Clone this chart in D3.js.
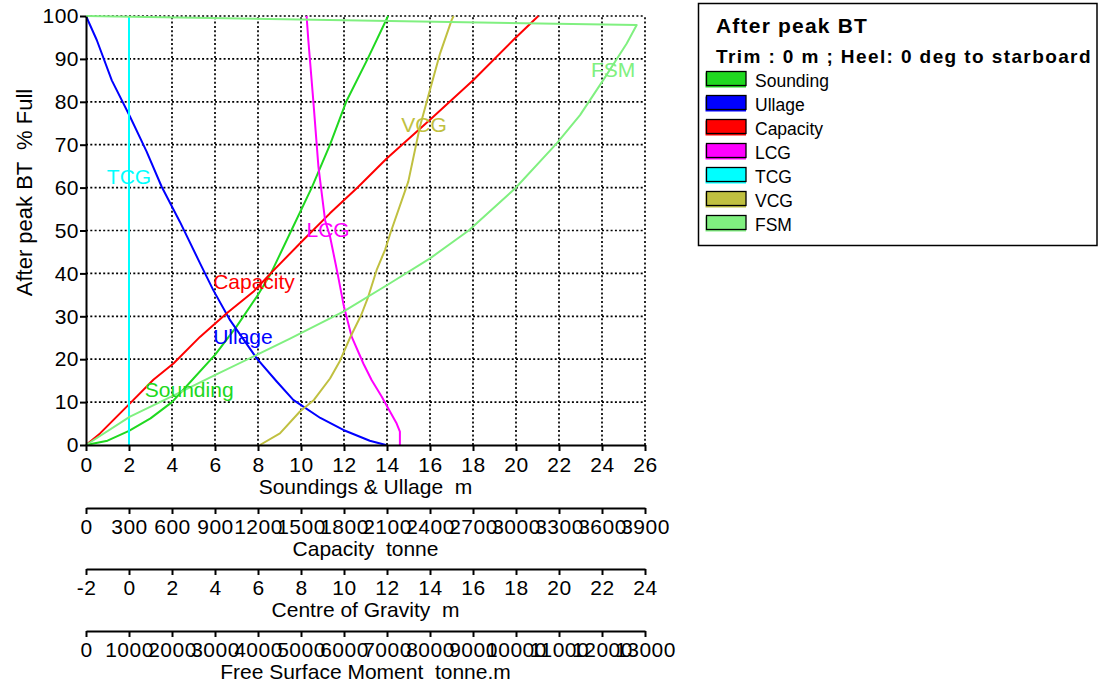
<!DOCTYPE html>
<html>
<head>
<meta charset="utf-8">
<script src="https://cdn.jsdelivr.net/npm/d3@7/dist/d3.min.js"></script>
<style>
  body { margin: 0; background: #fff; }
  svg { display: block; }
  text { font-family: Arial, "Liberation Sans", sans-serif; fill: #000; }
</style>
</head>
<body>
<svg id="chart" width="1099" height="686"></svg>
<script>
// ---- Tank calibration data: After peak BT (trim 0 m, heel 0 deg) ----
// Each series: % full (y) against its own quantity (x).
const soundingPct = [0, 1.0, 3.3, 6.2, 10, 15.5, 21, 27.6, 35, 40, 50, 60, 70, 80, 90, 100];
const soundingM   = [0, 1.0, 2.0, 3.0, 4.0, 5.0, 6.0, 7.0, 8.0, 8.6, 9.55, 10.5, 11.35, 12.1, 13.1, 14.05];

const ullagePct = [100, 94.4, 85, 76.5, 68.4, 60.2, 52, 42.4, 36.1, 29.1, 20.2, 14.8, 10.5, 6.3, 3.5, 1.0, 0];
const ullageM   = [0, 0.5, 1.2, 2.05, 2.82, 3.52, 4.37, 5.3, 5.92, 6.7, 7.94, 8.87, 9.64, 10.9, 11.97, 13.2, 13.95];

const capacityPct    = [0, 2.7, 9.7, 15.2, 19, 25.2, 30.7, 35.7, 40.4, 47.8, 54, 60.2, 66.8, 75.8, 85.1, 94.4, 100];
const capacityTonne  = [0, 98, 307, 470, 610, 795, 982, 1167, 1300, 1516, 1702, 1900, 2098, 2400, 2703, 2981, 3156];

const lcgPct = [0, 3.1, 5, 8.5, 11.3, 15.1, 19, 25.2, 32.2, 40, 48.6, 52.4, 64.9, 80.4, 94.4, 100];
const lcgM   = [12.6, 12.6, 12.45, 12.06, 11.75, 11.29, 10.9, 10.36, 10.0, 9.7, 9.35, 9.12, 8.81, 8.57, 8.34, 8.26];

const tcgPct = [0, 100];
const tcgM   = [0, 0];

const vcgPct = [0, 2.7, 7.8, 10.5, 15.5, 19.6, 25, 30.3, 34.6, 40.8, 45.5, 50, 61.4, 74.2, 82.8, 91.3, 99.1, 100];
const vcgM   = [6.09, 7.02, 7.95, 8.6, 9.35, 9.81, 10.28, 10.8, 11.13, 11.52, 11.91, 12.2, 12.99, 13.53, 14.0, 14.47, 15.01, 15.1];

const fsmPct = [0, 6.6, 11.5, 16.1, 21, 24.8, 31.1, 37.7, 43.5, 50, 59.8, 70.3, 76.9, 85.1, 93.6, 97.9, 100];
const fsmTm  = [0, 1023, 2031, 2961, 3970, 4745, 5985, 7071, 8001, 8900, 9978, 10947, 11489, 12032, 12575, 12807, 0];

// Axis tick values
const pctTicks      = d3.range(0, 101, 10);
const soundingTicks = d3.range(0, 27, 2);
const capacityTicks = d3.range(0, 3901, 300);
const cgTicks       = d3.range(-2, 25, 2);
const fsmTicks      = d3.range(0, 13001, 1000);

const seriesNames  = ["Sounding", "Ullage", "Capacity", "LCG", "TCG", "VCG", "FSM"];
const seriesColors = ["#20d820", "#0000ff", "#ff0000", "#ff00ff", "#00ffff", "#c0c040", "#80f080"];

// In-plot curve labels: [x value on the series' own axis, % full]
const labelX   = [4.8, 7.3, 1172, 9.26, 0, 13.72, 12258];
const labelPct = [11.2, 23.5, 36.4, 48.5, 60.8, 73, 85.8];

// ---- Layout ----
const svg = d3.select("#chart");
const L = 86, R = 645, T = 16, B = 445;
const TICK_FONT = "21px", TICK_SPACING = "0.5px";

const y      = d3.scaleLinear().domain([0, 100]).range([B, T]);
const xMain  = d3.scaleLinear().domain([0, 26]).range([L, R]);
const xCap   = d3.scaleLinear().domain([0, 3900]).range([L, R]);
const xCG    = d3.scaleLinear().domain([-2, 24]).range([L, R]);
const xFSM   = d3.scaleLinear().domain([0, 13000]).range([L, R]);

const seriesX   = [xMain, xMain, xCap, xCG, xCG, xCG, xFSM];
const seriesPct = [soundingPct, ullagePct, capacityPct, lcgPct, tcgPct, vcgPct, fsmPct];
const seriesVal = [soundingM, ullageM, capacityTonne, lcgM, tcgM, vcgM, fsmTm];

// ---- Dotted grid ----
const grid = svg.append("g")
  .attr("stroke", "#000").attr("stroke-width", 1.7).attr("stroke-dasharray", "2,2.3");
grid.selectAll("line.v").data(soundingTicks.slice(1)).join("line")
  .attr("x1", d => xMain(d)).attr("x2", d => xMain(d))
  .attr("y1", B).attr("y2", T);
grid.selectAll("line.h").data(pctTicks.slice(1)).join("line")
  .attr("x1", L).attr("x2", R)
  .attr("y1", d => y(d)).attr("y2", d => y(d));

// ---- Curves ----
const curves = svg.append("g").attr("fill", "none").attr("stroke-width", 2);
seriesNames.forEach((name, i) => {
  const pts = seriesPct[i].map((p, k) => [seriesX[i](seriesVal[i][k]), y(p)]);
  curves.append("path")
    .attr("d", d3.line()(pts))
    .attr("stroke", seriesColors[i])
    .attr("stroke-linejoin", "round");
});

// ---- Curve labels ----
seriesNames.forEach((name, i) => {
  svg.append("text")
    .attr("x", seriesX[i](labelX[i]))
    .attr("y", y(labelPct[i]))
    .attr("text-anchor", "middle")
    .style("font-size", "21px")
    .style("fill", seriesColors[i])
    .text(name);
});

// ---- Axes ----
function styleAxis(g) {
  g.select(".domain").attr("stroke", "#000").attr("stroke-width", 2);
  g.selectAll(".tick line").attr("stroke", "#000").attr("stroke-width", 2);
  g.selectAll(".tick text")
    .style("font-size", TICK_FONT).style("letter-spacing", TICK_SPACING)
    .attr("fill", "#000");
}
const plain = d => String(d);

svg.append("g")
  .attr("transform", `translate(${L},0)`)
  .call(d3.axisLeft(y).tickValues(pctTicks).tickSize(6).tickPadding(1).tickSizeOuter(0).tickFormat(plain))
  .call(styleAxis);

svg.append("g")
  .attr("transform", `translate(0,${B})`)
  .call(d3.axisBottom(xMain).tickValues(soundingTicks).tickSize(6).tickPadding(6).tickSizeOuter(0).tickFormat(plain))
  .call(styleAxis);

const secondary = [
  { scale: xCap, ticks: capacityTicks, yPos: 508, title: "Capacity  tonne" },
  { scale: xCG,  ticks: cgTicks,       yPos: 569, title: "Centre of Gravity  m" },
  { scale: xFSM, ticks: fsmTicks,      yPos: 631, title: "Free Surface Moment  tonne.m" }
];
secondary.forEach(a => {
  svg.append("g")
    .attr("transform", `translate(0,${a.yPos})`)
    .call(d3.axisBottom(a.scale).tickValues(a.ticks).tickSize(6).tickPadding(5).tickSizeOuter(0).tickFormat(plain))
    .call(styleAxis);
  svg.append("text")
    .attr("x", (L + R) / 2).attr("y", a.yPos + 48)
    .attr("text-anchor", "middle")
    .style("font-size", "21px").style("white-space", "pre")
    .text(a.title);
});

svg.append("text")
  .attr("x", (L + R) / 2).attr("y", 494)
  .attr("text-anchor", "middle")
  .style("font-size", "21px").style("white-space", "pre")
  .text("Soundings & Ullage  m");

svg.append("text")
  .attr("transform", `translate(32,${(T + B) / 2 - 38}) rotate(-90)`)
  .attr("text-anchor", "middle")
  .style("font-size", "22px").style("white-space", "pre")
  .text("After peak BT  % Full");

// ---- Legend ----
const lg = svg.append("g");
lg.append("rect")
  .attr("x", 698.5).attr("y", 3.5).attr("width", 398.5).attr("height", 242)
  .attr("fill", "#fff").attr("stroke", "#000").attr("stroke-width", 1.5);
lg.append("text")
  .attr("x", 716).attr("y", 33)
  .style("font-size", "21px").style("font-weight", "bold").style("letter-spacing", "1.2px")
  .text("After peak BT");
lg.append("text")
  .attr("x", 716).attr("y", 63)
  .style("font-size", "19px").style("font-weight", "bold").style("letter-spacing", "1.4px")
  .style("white-space", "pre")
  .text("Trim : 0 m ; Heel: 0 deg to starboard");

seriesNames.forEach((name, i) => {
  const top = 71 + i * 24;
  lg.append("rect")
    .attr("x", 705.5).attr("y", top + 1.5).attr("width", 40.5).attr("height", 15)
    .attr("fill", seriesColors[i]);
  lg.append("rect")
    .attr("x", 706.5).attr("y", top + 0.5).attr("width", 39.5).attr("height", 14)
    .attr("fill", seriesColors[i]).attr("stroke", "#000").attr("stroke-width", 1.3);
  lg.append("text")
    .attr("x", 755).attr("y", top + 16)
    .style("font-size", "17.5px")
    .text(name);
});
</script>
</body>
</html>
